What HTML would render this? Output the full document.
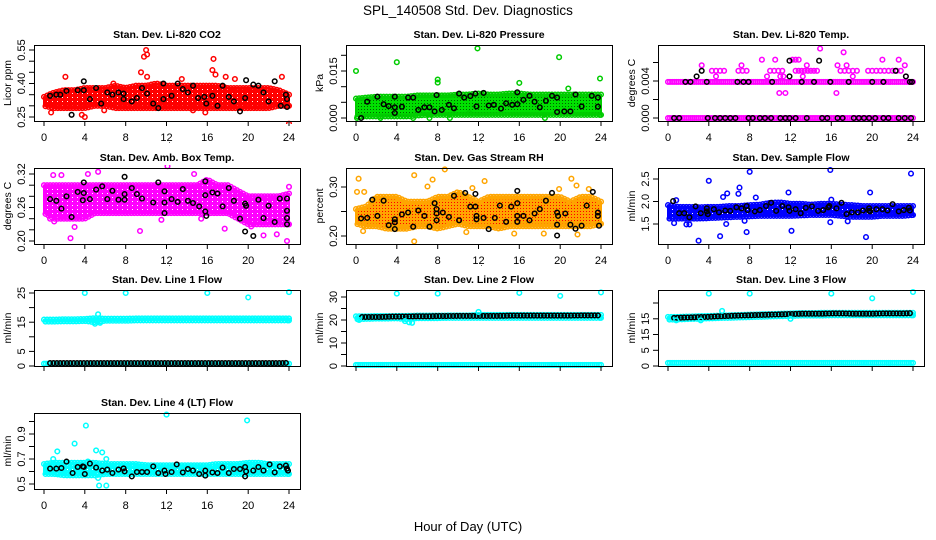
<!DOCTYPE html>
<html><head><meta charset="utf-8">
<style>
html,body{margin:0;padding:0;background:#fff;}
svg{display:block;font-family:"Liberation Sans",sans-serif;}
</style></head>
<body>
<svg id="chart" width="936" height="540" viewBox="0 0 936 540" xmlns="http://www.w3.org/2000/svg">
<defs>
<pattern id="pGreen" width="3" height="3" patternUnits="userSpaceOnUse"><rect width="3" height="3" fill="#00e000"/><rect x="1" y="1" width="1" height="1" fill="#006000"/></pattern>
<pattern id="pOrange" width="3" height="3" patternUnits="userSpaceOnUse"><rect width="3" height="3" fill="#ffa500"/><rect x="1" y="1" width="1" height="1" fill="#ff0000"/></pattern>
<pattern id="pRed" width="5" height="4" patternUnits="userSpaceOnUse"><rect width="5" height="4" fill="#ff0000"/><rect x="2" y="1" width="1" height="1" fill="#fff"/></pattern>
<pattern id="pMag" width="5" height="4" patternUnits="userSpaceOnUse"><rect width="5" height="4" fill="#ff00ff"/><rect x="2" y="1" width="1" height="1" fill="#fff"/></pattern>
<pattern id="pBlue" width="5" height="4" patternUnits="userSpaceOnUse"><rect width="5" height="4" fill="#0000ff"/><rect x="2" y="1" width="1" height="1" fill="#fff"/></pattern>
<pattern id="pCyan" width="5" height="4" patternUnits="userSpaceOnUse"><rect width="5" height="4" fill="#00ffff"/><rect x="2" y="1" width="1" height="1" fill="#fff"/></pattern>
</defs>
<text x="468" y="15" text-anchor="middle" font-size="13.5">SPL_140508  Std. Dev. Diagnostics</text>
<text x="468" y="531" text-anchor="middle" font-size="13">Hour of Day (UTC)</text>
<g id="panels"></g>
</svg>
<script>
// ---------- data ----------
const hourTicks=[0,4,8,12,16,20,24];
// CO2
const co2Lo=[.30,.29,.29,.29,.29,.30,.30,.29,.29,.29,.29,.29,.29,.29,.29,.29,.29,.29,.29,.29,.29,.29,.29,.30,.30];
const co2Hi=[.34,.36,.37,.37,.38,.38,.38,.39,.38,.39,.39,.40,.39,.39,.39,.39,.39,.39,.38,.38,.38,.38,.38,.37,.35];
const co2Out=[[2.1,.43],[9.8,.52],[10,.55],[10.1,.53],[16.6,.51],[16.5,.46],[16.8,.44],[9.5,.45],[13.5,.42],[0.7,.27],[3.7,.26],[4,.25],[23.3,.43],[24,.22],[15.8,.27],[14.6,.28],[5.9,.28],[17.8,.43],[10.1,.43],[6.8,.40],[18.7,.42]];
const co2Blk=[[.6,.345],[1.2,.35],[1.6,.35],[2.2,.367],[2.7,.26],[3.3,.37],[3.9,.41],[3.9,.37],[4.5,.33],[5.1,.38],[5.6,.31],[6.2,.36],[6.7,.35],[7.3,.36],[7.8,.355],[7.8,.33],[8.6,.32],[9.1,.335],[9.6,.38],[10.1,.355],[10.7,.31],[11.2,.29],[11.7,.40],[11.7,.33],[12.5,.345],[13.1,.40],[13.6,.375],[14.1,.36],[14.6,.39],[15.1,.335],[15.7,.34],[15.9,.31],[16.5,.345],[17.0,.30],[17.5,.39],[18.1,.34],[18.6,.32],[19.2,.275],[19.7,.335],[19.8,.415],[20.5,.395],[21,.39],[21.5,.36],[22,.32],[22.6,.41],[23.2,.30],[23.7,.35],[23.8,.295],[23.8,.33]];
// Pressure
const presLo=[.0005,.0005,.0005,.0005,.0005,.0005,.0008,.001,.001,.001,.001,.001,.001,.001,.001,.001,.001,.001,.001,.001,.001,.001,.001,.001,.001];
const presHi=[.0062,.0065,.0068,.0068,.0068,.0068,.0072,.0072,.0072,.0072,.0075,.0075,.0078,.0075,.0075,.0078,.0078,.0075,.0075,.0075,.0075,.0075,.0075,.0075,.0075];
const presOut=[[0,.015],[4,.0178],[8,.0123],[8,.0113],[11.9,.0222],[16,.0112],[19.9,.0194],[23.9,.0126],[20.8,.0094],[11.1,.0016],[9.2,0],[7.2,0],[5.6,0],[2.4,0],[0.1,0],[18.5,0]];
const presBlk=[[.5,0],[1.1,.0052],[2.1,.0068],[2.7,.0044],[3.2,.0038],[3.8,.0016],[3.8,.0068],[3.8,.0034],[4.5,.0036],[5.1,.0065],[5.6,.0065],[6.1,.0026],[6.7,.0034],[7.2,.0034],[7.7,.0021],[7.9,.0073],[8.4,.0026],[9.1,.0042],[9.6,.0031],[10.1,.0078],[10.6,.0065],[11.2,.007],[11.7,.0078],[11.8,.0037],[12.5,.008],[13,.004],[13.5,.0042],[14.2,.003],[14.7,.0047],[15.3,.0042],[15.8,.0044],[15.8,.0082],[16.4,.0058],[17,.0071],[17.5,.0052],[18,.0034],[18.6,.0055],[19.2,.0071],[19.7,.0065],[19.7,.0019],[20.4,.0021],[21,.0021],[21.5,.0075],[22.1,.0037],[23.1,.0071],[23.7,.0065],[23.7,.0036]];
// Li-820 temp
const tempZero=[0,0,0,0,0,0,0,0,0,0,0,0,0,0,0,0,0,0,0,0,0,0,0,0,0];
const tempMid=[.0039,.0039,.0039,.0039,.0039,.0039,.0039,.0039,.0039,.0039,.0039,.0039,.0039,.0039,.0039,.0039,.0039,.0039,.0039,.0039,.0039,.0039,.0039,.0039,.0039];
const temp5Hours=[4.3,4.7,5.1,5.5,6.9,7.3,7.7,10.0,10.4,10.8,11.2,12.5,12.8,13.1,13.4,13.7,14.0,14.3,14.6,16.9,17.3,17.7,18.1,18.5,19.6,20.0,20.4,20.8,21.2,21.6,22.0,22.4,22.8];
const tempOut=[[3.3,.0057],[4.7,.0045],[7.2,.0057],[9.2,.0063],[9.7,.0045],[10.5,.0063],[10.9,.0027],[11.5,.0027],[11,.0045],[12.2,.0063],[12.5,.0063],[12.8,.0063],[13.6,.0057],[14.9,.0075],[16.5,.0027],[16.6,.0057],[17.2,.0071],[17.5,.0057],[18.1,.0045],[21,.0063],[22.6,.0063],[23.2,.0057],[23.3,.0045],[11.3,.0045],[13.2,.0045]];
const tempBlk=[[1.7,.0039],[2.2,.0039],[3.8,.0039],[6.8,.0039],[7.4,.0039],[7.9,.0039],[10.2,.0039],[11.9,.0062],[11.9,.0045],[13.1,.0039],[14.3,.0039],[14.8,.0062],[15.9,.0039],[17.7,.0039],[20,.0039],[21.1,.0039],[22.3,.0051],[23.3,.0045],[23.9,.0039],[23.7,.0039],[2.8,.0045],[3.3,.0051]];
const tempBlkZeroHours=[0.6,1.1,3.9,4.6,5.1,5.6,6.1,6.6,7.9,8.3,9.0,9.5,10.1,11.0,11.5,11.9,12.5,13.6,15.1,15.6,16.6,17.1,18.2,18.7,19.2,19.7,20.3,21.1,21.6,22.6,23.2,23.8];
// Amb box temp
const ambLo=[.25,.24,.24,.24,.24,.25,.25,.25,.25,.25,.25,.25,.25,.25,.25,.25,.25,.25,.25,.24,.23,.23,.23,.23,.23];
const ambHi=[.30,.30,.30,.30,.30,.30,.30,.30,.30,.30,.30,.30,.30,.30,.30,.30,.31,.30,.30,.29,.28,.28,.28,.28,.285];
const ambOut=[[.9,.318],[1.7,.318],[2.6,.205],[4.3,.32],[5.3,.324],[9.4,.218],[12.1,.334],[14.7,.32],[17.7,.222],[21.5,.21],[22.8,.212],[23.8,.20],[24,.297],[3,.225],[0.6,.24],[1,.235],[11.5,.238],[15.4,.24],[20.3,.226]];
const ambBlk=[[.6,.275],[1.2,.272],[1.7,.258],[2.2,.28],[2.7,.243],[3.3,.288],[3.9,.305],[3.9,.286],[3.8,.273],[4.5,.275],[5.1,.292],[5.7,.298],[6.2,.275],[6.7,.29],[7.3,.274],[7.9,.315],[7.9,.284],[7.9,.274],[8.6,.295],[9.1,.284],[9.6,.276],[10.7,.269],[11.2,.305],[11.8,.289],[11.8,.269],[11.8,.25],[12.5,.275],[13.1,.27],[13.6,.293],[14.1,.272],[14.6,.268],[15.2,.262],[15.8,.307],[15.8,.253],[15.9,.245],[15.8,.282],[16.5,.287],[17,.285],[17.5,.262],[18.1,.295],[18.6,.272],[19.2,.24],[19.7,.267],[19.7,.217],[19.8,.263],[20.5,.209],[21,.274],[21.5,.241],[22,.263],[22.6,.234],[23.1,.276],[23.8,.276],[23.8,.254],[23.8,.241],[23.8,.23]];
// Gas stream RH
const rhLo=[.225,.22,.22,.215,.215,.215,.22,.22,.215,.22,.225,.22,.22,.22,.215,.22,.22,.22,.22,.22,.22,.22,.22,.22,.225];
const rhHi=[.255,.26,.28,.28,.28,.27,.27,.27,.28,.28,.29,.28,.27,.28,.28,.28,.28,.28,.28,.28,.28,.27,.28,.28,.27];
const rhOut=[[.25,.317],[.1,.29],[.8,.29],[.7,.21],[5.7,.324],[5.7,.189],[7.5,.315],[7,.301],[8.7,.336],[12.6,.312],[21.1,.317],[21.6,.303],[21.7,.203],[10.8,.208],[15.5,.205],[18.4,.205],[11.4,.298],[19.9,.296],[22.8,.296]];
const rhBlk=[[.5,.236],[1.1,.237],[1.6,.274],[2.1,.241],[2.7,.272],[3.2,.222],[3.8,.234],[3.8,.214],[3.8,.228],[4.5,.244],[5.1,.248],[5.6,.219],[6.1,.252],[6.7,.241],[7.2,.219],[7.7,.267],[7.9,.255],[7.9,.246],[7.9,.232],[8.5,.248],[9.1,.239],[9.6,.282],[10.1,.232],[10.7,.288],[11.2,.26],[11.7,.286],[11.7,.26],[11.8,.241],[11.8,.234],[12.5,.237],[13,.214],[13.6,.237],[14.1,.262],[14.7,.229],[15.2,.26],[15.8,.292],[15.8,.267],[15.8,.241],[15.8,.229],[16.4,.241],[17,.232],[17.5,.246],[18,.255],[18.6,.272],[19.2,.288],[19.7,.201],[19.7,.223],[19.7,.248],[19.8,.241],[20.5,.246],[21,.223],[21.5,.215],[22.1,.221],[22.6,.262],[23.2,.29],[23.7,.248],[23.7,.241],[23.8,.221]];
// Sample flow
const sfLo=[1.62,1.62,1.62,1.62,1.63,1.64,1.65,1.66,1.67,1.68,1.68,1.68,1.68,1.69,1.7,1.7,1.7,1.68,1.66,1.66,1.66,1.68,1.68,1.68,1.7];
const sfHi=[1.92,1.88,1.88,1.87,1.88,1.88,1.9,1.9,1.92,1.93,1.97,1.98,1.95,1.95,1.93,1.95,1.95,1.93,1.92,1.9,1.9,1.9,1.9,1.9,1.9];
const sfOut=[[8,2.66],[15.9,2.7],[23.8,2.62],[4,2.46],[7,2.31],[3,1.13],[5.1,1.23],[19.4,1.21],[12.1,1.35],[7.7,1.32],[19.8,2.2],[11.8,2.2],[8.6,2.09],[5.8,2.18],[5.4,2.1],[6.9,2.17],[15.9,1.54],[17.6,1.56],[1.8,1.49],[2.1,1.49],[.6,1.52],[5.7,1.5],[7.5,1.57],[16,2.04],[.8,2.03]];
const sfBlk=[[.5,2.01],[1.1,1.74],[1.6,1.74],[2.1,1.65],[2.7,1.89],[3.2,1.74],[3.8,1.85],[3.8,1.78],[3.9,1.72],[4.5,1.83],[5,1.76],[5.6,1.8],[6.1,1.79],[6.7,1.87],[7.2,1.85],[7.7,1.9],[7.8,1.81],[8.5,1.78],[9,1.81],[9.6,1.9],[10.1,1.97],[10.6,1.79],[11.2,1.9],[11.8,1.87],[11.9,1.79],[12.5,1.83],[13,1.74],[13.5,1.86],[14.1,1.89],[14.7,1.79],[15.2,1.81],[15.7,1.87],[15.8,1.9],[16.5,1.85],[17,1.97],[17.5,1.72],[18,1.76],[18.6,1.76],[19.1,1.8],[19.7,1.85],[19.7,1.79],[19.8,1.78],[20.4,1.83],[21,1.83],[21.5,1.8],[22,1.94],[22.6,1.78],[23.1,1.81],[23.6,1.86],[23.7,1.8]];
// Line 1 flow
const l1Lo=[15.2,15.2,15.3,15.3,15.4,15.0,15.5,15.5,15.5,15.6,15.6,15.6,15.6,15.6,15.6,15.6,15.6,15.6,15.6,15.6,15.6,15.6,15.6,15.6,15.6];
const l1Hi=[15.9,15.9,16.0,16.0,16.1,16.4,16.2,16.2,16.2,16.3,16.3,16.3,16.3,16.3,16.3,16.3,16.3,16.3,16.3,16.3,16.3,16.3,16.3,16.3,16.3];
const l1Base=[.8,.8,.8,.8,.8,.8,.8,.8,.8,.8,.8,.8,.8,.8,.8,.8,.8,.8,.8,.8,.8,.8,.8,.8,.8];
const l1Blk=[1,1,1,1,1,1,1,1,1,1,1,1,1,1,1,1,1,1,1,1,1,1,1,1,1.1];
const l1Out=[[4,25],[8,25],[16,25],[20,23.5],[24,25.3],[5.3,17.7],[5,14.5],[5.5,14.8]];
// Line 2 flow
const l2Lo=[20.3,20.5,20.6,20.6,20.7,20.3,20.8,20.8,20.8,20.9,20.9,20.9,20.9,20.9,20.9,20.9,20.9,20.9,20.9,20.9,20.9,20.9,20.9,20.9,20.9];
const l2Hi=[21.6,21.6,21.7,21.7,21.8,21.8,21.9,21.9,21.9,22,22,22,22.2,22.2,22.2,22.2,22.2,22.2,22.2,22.2,22.2,22.2,22.2,22.2,22.2];
const l2Base=[.5,.5,.5,.5,.5,.5,.5,.5,.5,.5,.5,.5,.5,.5,.5,.5,.5,.5,.5,.5,.5,.5,.5,.5,.5];
const l2Blk=[21.3,21.3,21.3,21.4,21.5,21.5,21.6,21.6,21.7,21.7,21.8,21.8,21.8,21.8,21.8,21.9,21.9,21.9,21.9,21.9,21.9,21.9,22,22,22];
const l2Out=[[4,31.5],[8,31.5],[16,31.8],[20,30.5],[24,32],[12,23.5],[5.2,19],[5.5,18.8],[4.8,19.5],[0.3,20]];
// Line 3 flow
const l3Lo=[14.7,14.8,14.9,15.0,15.1,15.2,15.3,15.4,15.5,15.6,15.7,15.8,15.9,16.0,16.0,16.0,16.1,16.1,16.1,16.1,16.1,16.1,16.1,16.1,16.1];
const l3Hi=[15.6,15.6,15.7,15.8,15.9,16.0,16.1,16.2,16.3,16.4,16.5,16.6,16.7,16.8,16.8,16.9,16.9,16.9,16.9,16.9,16.9,16.9,16.9,16.9,16.9];
const l3Base=[1,1,1,1,1,1,1,1,1,1,1,1,1,1,1,1,1,1,1,1,1,1,1,1,1];
const l3Blk=[15.2,15.3,15.4,15.5,15.6,15.8,15.9,16.0,16.1,16.2,16.3,16.4,16.5,16.6,16.6,16.6,16.7,16.7,16.6,16.6,16.6,16.7,16.7,16.7,16.8];
const l3Out=[[4,23],[8,23],[16,23],[20,21.5],[24,23.5],[5.3,17.5],[12,15],[3.2,14.5],[0.8,14.5]];
// Line 4 flow
const l4Lo=[.58,.58,.57,.57,.57,.57,.58,.58,.58,.58,.58,.58,.58,.58,.58,.58,.58,.58,.58,.58,.58,.58,.58,.58,.58];
const l4Hi=[.66,.67,.67,.67,.67,.67,.66,.66,.66,.66,.65,.65,.65,.65,.65,.65,.65,.66,.66,.66,.67,.67,.66,.66,.66];
const l4Out=[[12,1.055],[19.9,1.009],[4.1,.967],[3,.823],[1.3,.761],[.9,.7],[5.1,.769],[5.7,.753],[6.1,.7],[5.4,.487],[6.1,.487],[4.3,.68],[5.3,.548],[1.3,.58]];
const l4Blk=[[.6,.623],[1.2,.623],[1.7,.628],[2.2,.679],[2.8,.588],[3.3,.636],[3.8,.641],[3.9,.636],[4,.58],[4.5,.663],[5.1,.631],[5.7,.607],[6.2,.615],[6.7,.588],[7.3,.615],[7.8,.625],[7.9,.601],[8.6,.561],[9.1,.596],[9.6,.596],[10.1,.596],[10.7,.641],[11.2,.588],[11.8,.607],[11.9,.58],[12.5,.596],[13,.657],[13.6,.593],[14.1,.62],[14.6,.607],[15.2,.58],[15.8,.607],[15.8,.567],[16.5,.593],[17,.588],[17.5,.631],[18.1,.588],[18.6,.62],[19.2,.62],[19.7,.636],[19.7,.561],[19.8,.601],[20.5,.607],[21,.636],[21.5,.607],[22.1,.657],[22.6,.593],[23.1,.641],[23.7,.647],[23.8,.623],[23.9,.607]];

// ---------- render ----------
const NS="http://www.w3.org/2000/svg";
const root=document.getElementById('panels');
function mk(tag,attrs,parent){const e=document.createElementNS(NS,tag);for(const k in attrs)e.setAttribute(k,attrs[k]);(parent||root).appendChild(e);return e;}
const colX=[34,346,658], rowY=[45,168,290,413], W=266, H=76;

const panels=[
 {key:'co2',title:'Stan. Dev. Li-820 CO2',ylab:'Licor ppm',c:0,r:0,col:'#ff0000',fill:'url(#pRed)',v0:.25,p0:117,v1:.55,p1:50,
  ticks:[.25,.30,.35,.40,.45,.50,.55],labs:[[.25,'0.25'],[.40,'0.40'],[.55,'0.55']],bands:[[co2Lo,co2Hi]],out:co2Out,blk:co2Blk,xl:true},
 {key:'pressure',title:'Stan. Dev. Li-820 Pressure',ylab:'kPa',c:1,r:0,col:'#00cc00',fill:'url(#pGreen)',v0:0,p0:118,v1:.015,p1:71,
  ticks:[0,.005,.010,.015,.020],labs:[[0,'0.000'],[.015,'0.015']],bands:[[presLo,presHi]],out:presOut,blk:presBlk,xl:true},
 {key:'li820-temp',title:'Stan. Dev. Li-820 Temp.',ylab:'degrees C',c:2,r:0,col:'#ff00ff',fill:'url(#pMag)',v0:0,p0:118,v1:.004,p1:81,
  ticks:[0,.002,.004,.006],labs:[[0,'0.000'],[.004,'0.004']],lines:[[tempZero,'#ff00ff',0],[tempMid,'#ff00ff',0]],hourPts:[[temp5Hours,.0051,'#ff00ff'],[tempBlkZeroHours,0,'#000']],out:tempOut,blk:tempBlk,xl:true},
 {key:'amb-temp',title:'Stan. Dev. Amb. Box Temp.',ylab:'degrees C',c:0,r:1,col:'#ff00ff',fill:'url(#pMag)',v0:.20,p0:241,v1:.32,p1:174,
  ticks:[.20,.22,.24,.26,.28,.30,.32],labs:[[.20,'0.20'],[.26,'0.26'],[.32,'0.32']],bands:[[ambLo,ambHi]],out:ambOut,blk:ambBlk,xl:true},
 {key:'rh',title:'Stan. Dev. Gas Stream RH',ylab:'percent',c:1,r:1,col:'#ffa500',fill:'url(#pOrange)',v0:.20,p0:236,v1:.30,p1:187,
  ticks:[.20,.25,.30],labs:[[.20,'0.20'],[.30,'0.30']],bands:[[rhLo,rhHi]],out:rhOut,blk:rhBlk,xl:true},
 {key:'sample-flow',title:'Stan. Dev. Sample Flow',ylab:'ml/min',c:2,r:1,col:'#0000ff',fill:'url(#pBlue)',v0:1.5,p0:224,v1:2.5,p1:179,
  ticks:[1.5,2.0,2.5],labs:[[1.5,'1.5'],[2.0,'2.0'],[2.5,'2.5']],bands:[[sfLo,sfHi]],out:sfOut,blk:sfBlk,xl:true},
 {key:'line1',title:'Stan. Dev. Line 1 Flow',ylab:'ml/min',c:0,r:2,col:'#00ffff',fill:'url(#pCyan)',v0:0,p0:366,v1:25,p1:293,
  ticks:[0,5,10,15,20,25],labs:[[0,'0'],[5,'5'],[15,'15'],[25,'25']],bands:[[l1Lo,l1Hi]],lines:[[l1Base,'#00ffff',0],[l1Blk,'#000',.6]],out:l1Out,blk:[],xl:false},
 {key:'line2',title:'Stan. Dev. Line 2 Flow',ylab:'ml/min',c:1,r:2,col:'#00ffff',fill:'url(#pCyan)',v0:0,p0:366,v1:30,p1:297,
  ticks:[0,5,10,15,20,25,30],labs:[[0,'0'],[10,'10'],[20,'20'],[30,'30']],bands:[[l2Lo,l2Hi]],lines:[[l2Base,'#00ffff',0],[l2Blk,'#000',.6]],out:l2Out,blk:[],xl:false},
 {key:'line3',title:'Stan. Dev. Line 3 Flow',ylab:'ml/min',c:2,r:2,col:'#00ffff',fill:'url(#pCyan)',v0:0,p0:366,v1:20,p1:303,
  ticks:[0,5,10,15,20],labs:[[0,'0'],[5,'5'],[10,'15'],[15,'15']],bands:[[l3Lo,l3Hi]],lines:[[l3Base,'#00ffff',0],[l3Blk,'#000',.6]],out:l3Out,blk:[],xl:false},
 {key:'line4',title:'Stan. Dev. Line 4 (LT) Flow',ylab:'ml/min',c:0,r:3,col:'#00ffff',fill:'url(#pCyan)',v0:.5,p0:484,v1:.9,p1:434,
  ticks:[.5,.6,.7,.8,.9,1.0],labs:[[.5,'0.5'],[.7,'0.7'],[.9,'0.9']],bands:[[l4Lo,l4Hi]],out:l4Out,blk:l4Blk,xl:true}
];

function interp(arr,h){const i=Math.min(23,Math.floor(h));const t=h-i;return arr[i]*(1-t)+arr[i+1]*t;}

panels.forEach(p=>{
  const L=colX[p.c],T=rowY[p.r],B=T+H,R=L+W;
  const xs=h=>L+10+h*(245/24);
  const ys=v=>p.p0+(v-p.v0)*(p.p1-p.p0)/(p.v1-p.v0);
  const g=mk('g',{});
  
  
  const clipId='clip-'+p.key;
  const cp=mk('clipPath',{id:clipId},g); mk('rect',{x:L-3,y:T-3,width:W+6,height:H+6},cp);
  const plot=mk('g',{'clip-path':'url(#'+clipId+')'},g);
  const circ=(h,v,color,parent)=>{const c=mk('circle',{cx:xs(h).toFixed(1),cy:ys(v).toFixed(1),r:2.3,fill:'none',stroke:color,'stroke-width':1.5},parent);return c;};
  (p.bands||[]).forEach(([lo,hi])=>{
    const bg=mk('g',{},plot);
    
    
    let d='';
    for(let i=0;i<25;i++)d+=(i?'L':'M')+xs(i).toFixed(1)+','+ys(hi[i]).toFixed(1);
    for(let i=24;i>=0;i--)d+='L'+xs(i).toFixed(1)+','+ys(lo[i]).toFixed(1);
    mk('path',{d:d+'Z',fill:p.fill,stroke:p.col,'stroke-width':2,'stroke-linejoin':'round'},bg);
    for(let h=0;h<=24.001;h+=0.3){circ(h,interp(hi,h),p.col,bg);circ(h+0.15>24?24:h+0.15,interp(lo,Math.min(24,h+0.15)),p.col,bg);}
  });
  (p.lines||[]).forEach(([arr,color,start])=>{
    const lg=mk('g',{},plot);
    
    
    for(let h=start;h<=24.001;h+=(color==='#000'?0.33:0.2))circ(Math.min(24,h),interp(arr,Math.min(24,h)),color,lg);
  });
  (p.hourPts||[]).forEach(([hrs,v,color])=>{
    const hg=mk('g',{},plot);
    
    
    hrs.forEach(h=>circ(h,v,color,hg));
  });
  const og=mk('g',{},plot);
  
  
  p.out.forEach(([h,v])=>circ(h,v,p.col,og));
  const kg=mk('g',{},plot);
  
  
  p.blk.forEach(([h,v])=>circ(h,v,'#000',kg));
  const box=mk('rect',{x:L+.5,y:T+.5,width:W,height:H,fill:'none',stroke:'#000','stroke-width':1},g);
  
  
  const tt=mk('text',{x:L+W/2,y:T-7,'text-anchor':'middle','font-size':10.5,'font-weight':'bold'},g);
  tt.textContent=p.title;
  
  
  const xa=mk('g',{},g);
  
  
  hourTicks.forEach(h=>{
    mk('line',{x1:xs(h).toFixed(1),x2:xs(h).toFixed(1),y1:B,y2:B+5,stroke:'#000'},xa);
    if(p.xl){const t=mk('text',{x:xs(h).toFixed(1),y:B+20,'text-anchor':'middle','font-size':11},xa);t.textContent=h;}
  });
  if(p.xl){const dt=mk('text',{x:xs(12)+2,y:B+22,'font-size':8},xa);dt.textContent='.';}
  const ya=mk('g',{},g);
  
  
  p.ticks.forEach(v=>{const y=ys(v);if(y<T-1||y>B+1)return;mk('line',{x1:L-5,x2:L,y1:y.toFixed(1),y2:y.toFixed(1),stroke:'#000'},ya);});
  p.labs.forEach(([v,s])=>{const y=ys(v);const t=mk('text',{x:0,y:0,'text-anchor':'middle','font-size':11,transform:`translate(${L-9},${y.toFixed(1)}) rotate(-90)`},ya);t.textContent=s;});
  const yl=mk('text',{x:0,y:0,'text-anchor':'middle','font-size':10.5,transform:`translate(${L-23},${T+H/2}) rotate(-90)`},g);
  yl.textContent=p.ylab;
  
  
});
</script>
</body></html>
